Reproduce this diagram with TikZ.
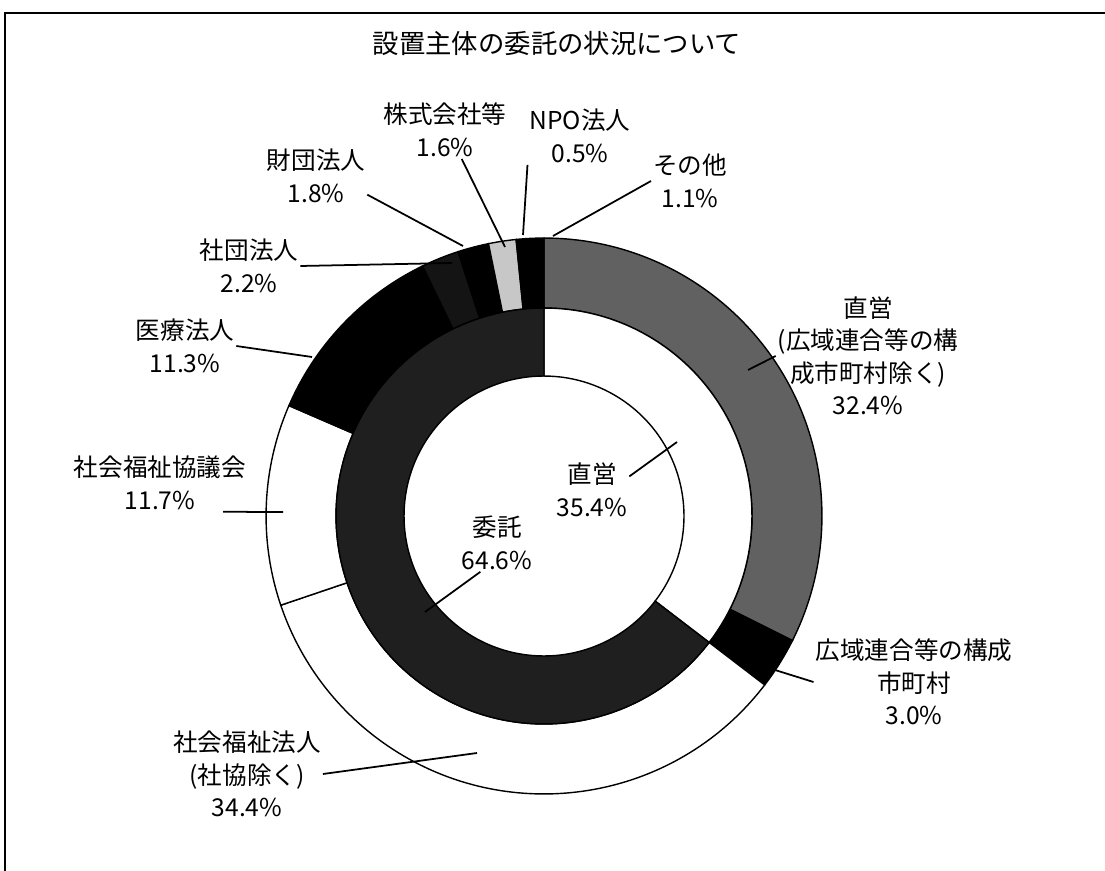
\documentclass[tikz,border=0pt]{standalone}
\usepackage{fontspec}
\newfontfamily\jpfont{Noto Sans CJK JP}

\tikzset{
  lbl/.style={font=\jpfont\fontsize{14}{18.5}\selectfont, align=center, inner sep=1pt},
  leader/.style={line width=1pt},
  seg/.style={draw=black, line width=0.8pt}
}

\begin{document}
\begin{tikzpicture}[x=0.02cm,y=-0.02cm]
  \useasboundingbox (0,0) rectangle (1105,871);
  \draw[line width=0.9pt] (5,871) -- (5,13) -- (1105,13);
  \node[lbl,font=\jpfont\fontsize{15}{18.5}\selectfont] (title) at (557,43) {設置主体の委託の状況について};

  \coordinate (c) at (544,516);
  % outer ring
  \foreach \a/\b/\f in {90/-26.64/black!62, -26.64/-37.44/black, -37.44/-161.28/white, -161.28/-203.4/white,
      -203.4/-244.08/black, -244.08/-252/black!92, -252/-258.48/black, -258.48/-264.24/black!22,
      -264.24/-266.04/black, -266.04/-270/black}
    \draw[seg,fill=\f] (c) ++(\a:5.56cm) arc[start angle=\a,end angle=\b,radius=5.56cm]
      -- ++(\b:-1.40cm) arc[start angle=\b,end angle=\a,radius=4.16cm] -- cycle;
  % inner ring
  \foreach \a/\b/\f in {90/-37.44/white, -37.44/-270/black!88}
    \draw[seg,fill=\f] (c) ++(\a:4.16cm) arc[start angle=\a,end angle=\b,radius=4.16cm]
      -- ++(\b:-1.36cm) arc[start angle=\b,end angle=\a,radius=2.80cm] -- cycle;

  \node[lbl] (sonota) at (690,181) {その他\\1.1\%};
  \node[lbl] (npo) at (580,136) {NPO法人\\0.5\%};
  \node[lbl] (kabu) at (445,130) {株式会社等\\1.6\%};
  \node[lbl] (zaidan) at (316,176) {財団法人\\1.8\%};
  \node[lbl] (shadan) at (249,266) {社団法人\\2.2\%};
  \node[lbl] (iryo) at (185,346) {医療法人\\11.3\%};
  \node[lbl] (kyogikai) at (160,483) {社会福祉協議会\\11.7\%};
  \node[lbl] (fukushi) at (247,774) {社会福祉法人\\(社協除く)\\34.4\%};
  \node[lbl] (itaku) at (497,543) {委託\\64.6\%};
  \node[lbl] (chokuin) at (592,490) {直営\\35.4\%};
  \node[lbl] (chokuout) at (868,356) {直営\\(広域連合等の構\\成市町村除く)\\32.4\%};
  \node[lbl] (kouiki) at (914,682) {広域連合等の構成\\市町村\\3.0\%};

  \coordinate (p-sonota) at (553,236);
  \coordinate (p-npo) at (523,235);
  \coordinate (p-kabu) at (505,247);
  \coordinate (p-zaidan) at (463,246);
  \coordinate (p-shadan) at (452,263);
  \coordinate (p-iryo) at (312,357);
  \coordinate (p-kyogikai) at (283,512);
  \coordinate (p-fukushi) at (477,753);
  \coordinate (p-itaku) at (425,612);
  \coordinate (p-chokuin) at (677,442);
  \coordinate (p-chokuout) at (748,370);
  \coordinate (p-kouiki) at (775,670);

  \draw[leader] (sonota.west) -- (p-sonota);
  \draw[leader] (npo.south west) -- (p-npo);
  \draw[leader] (kabu.-60) -- (p-kabu);
  \draw[leader] (zaidan.-20) -- (p-zaidan);
  \draw[leader] (shadan.east) -- (p-shadan);
  \draw[leader] (iryo.east) -- (p-iryo);
  \draw[leader,shorten <=-0.5cm] (kyogikai.south east) -- (p-kyogikai);
  \draw[leader] (fukushi.east) -- (p-fukushi);
  \draw[leader] (itaku.-120) -- (p-itaku);
  \draw[leader] (chokuin.20) -- (p-chokuin);
  \draw[leader] (chokuout.west) -- (p-chokuout);
  \draw[leader] (kouiki.west) -- (p-kouiki);
\end{tikzpicture}
\end{document}
